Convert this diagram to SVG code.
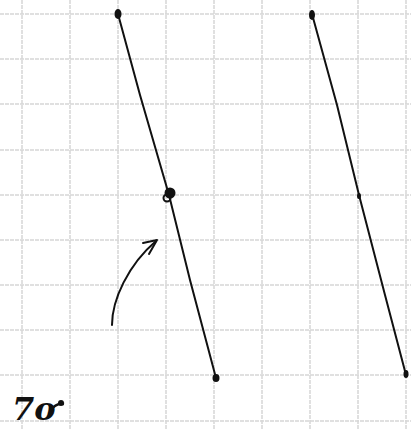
<svg xmlns="http://www.w3.org/2000/svg" width="411" height="430" viewBox="0 0 411 430">
<style>
.grid{stroke:#d6d6d6;stroke-width:1.5;stroke-dasharray:4 1;fill:none}
.ink{stroke:#111;stroke-width:2;fill:none;stroke-linecap:round;stroke-linejoin:round}
.dot{fill:#111}
.hand{font-family:"DejaVu Serif","Liberation Serif",serif;font-style:italic;font-weight:bold;fill:#111}
</style>
<rect width="411" height="430" fill="#fff"/>
<g id="grid" class="grid">
<path d="M22 0V430M70 0V430M118 0V430M166 0V430M214 0V430M262 0V430M310 0V430M358 0V430M406 0V430"/>
<path d="M0 14H411M0 59H411M0 104H411M0 150H411M0 195H411M0 240H411M0 285H411M0 330H411M0 375H411M0 421H411"/>
</g>
<g id="line-left">
<path class="ink" d="M118 14 L140 95 L169 195 L190 280 L216 378"/>
<ellipse class="dot" cx="118" cy="14" rx="3.5" ry="5"/>
<circle class="dot" cx="170" cy="193" r="5.5"/>
<circle cx="167" cy="198" r="3.5" fill="none" stroke="#111" stroke-width="2"/>
<ellipse class="dot" cx="216" cy="378" rx="3.5" ry="4"/>
</g>
<g id="line-right">
<path class="ink" d="M312 14 L337 105 L359 195 L385 295 L406 375"/>
<ellipse class="dot" cx="312" cy="15" rx="3" ry="5"/>
<ellipse class="dot" cx="359" cy="196" rx="2" ry="3"/>
<ellipse class="dot" cx="406" cy="374" rx="2.5" ry="4"/>
</g>
<g id="connectors">
<path class="ink" d="M112 325 C112 300 128 265 156 241"/>
<path class="ink" d="M143 243 L157 240 L149 254"/>
</g>
<g id="label">
<text class="hand" x="12" y="420" font-size="32">7o</text>
<path d="M50 411 C55 404 60 403 64 404" stroke="#111" stroke-width="2.5" fill="none"/>
<circle class="dot" cx="61" cy="403" r="3"/>
</g>
</svg>
